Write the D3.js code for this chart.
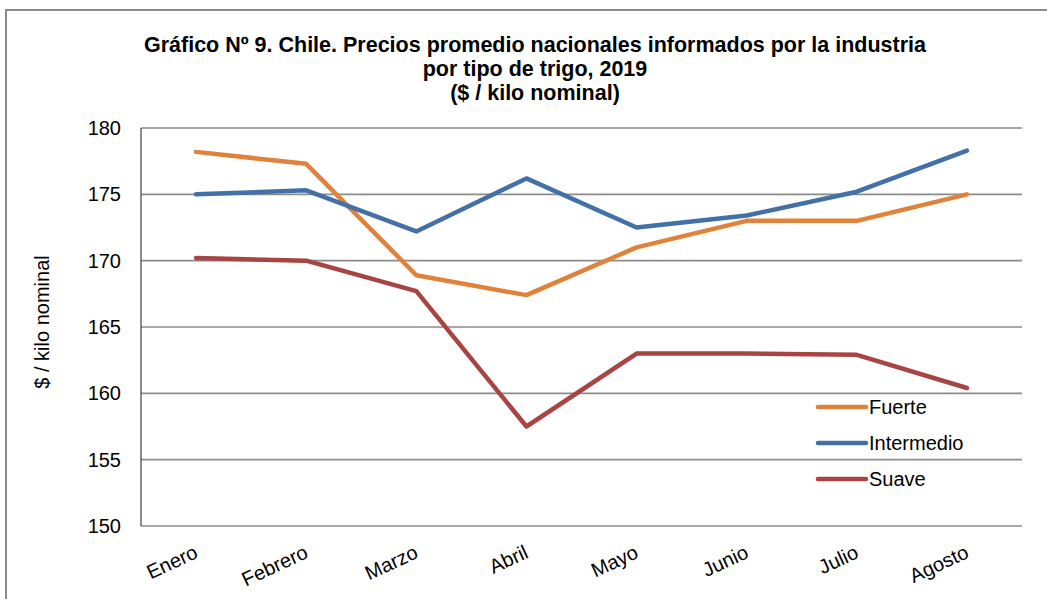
<!DOCTYPE html>
<html><head><meta charset="utf-8">
<script src="https://cdn.jsdelivr.net/npm/d3@7"></script>
<style>
html,body{margin:0;padding:0;background:#fff;}
svg{display:block;font-family:"Liberation Sans",Arial,sans-serif;}
</style></head>
<body><svg id="c" width="1047" height="599"></svg>
<script>
const months = ["Enero","Febrero","Marzo","Abril","Mayo","Junio","Julio","Agosto"];
const fuerte = [178.2, 177.3, 168.9, 167.4, 171.0, 173.0, 173.0, 175.0];
const intermedio = [175.0, 175.3, 172.2, 176.2, 172.5, 173.4, 175.2, 178.3];
const suave = [170.2, 170.0, 167.7, 157.5, 163.0, 163.0, 162.9, 160.4];
const yTicks = [150, 155, 160, 165, 170, 175, 180];
const seriesNames = ["Fuerte","Intermedio","Suave"];
const titleLines = ["Gráfico Nº 9. Chile. Precios promedio nacionales informados por la industria","por tipo de trigo, 2019","($ / kilo nominal)"];
const yTitle = "$ / kilo nominal";

const colors = {Fuerte:"#E0823A", Intermedio:"#4470A8", Suave:"#A84442"};
const series = [
  {name:"Fuerte", values:fuerte},
  {name:"Intermedio", values:intermedio},
  {name:"Suave", values:suave}
];

const svg = d3.select("#c");
const L = 141, R = 1022, T = 128, B = 526;

// outer frame
svg.append("path").attr("d","M6,599 L6,10 L1047,10").attr("fill","none").attr("stroke","#8a8a8a").attr("stroke-width",2);

// title
const tt = svg.append("text").attr("text-anchor","middle").attr("font-weight","bold").attr("font-size",21.5).attr("fill","#000");
titleLines.forEach((t,i)=>tt.append("tspan").attr("x",535).attr("y",52+i*24).text(t));

const x = d3.scaleBand().domain(months).range([L,R]).padding(0);
const y = d3.scaleLinear().domain([150,180]).range([B,T]);

// gridlines
svg.append("g").selectAll("line").data(yTicks).join("line")
  .attr("x1",L).attr("x2",R).attr("y1",d=>y(d)).attr("y2",d=>y(d))
  .attr("stroke","#8c8c8c").attr("stroke-width",1.6);

// y axis line
svg.append("line").attr("x1",L).attr("x2",L).attr("y1",T).attr("y2",B).attr("stroke","#404040").attr("stroke-width",1.2);

// y tick labels
svg.append("g").selectAll("text").data(yTicks).join("text")
  .attr("x",121).attr("y",d=>y(d)).attr("dy","0.35em").attr("text-anchor","end")
  .attr("font-size",20).attr("fill","#000").text(d=>d);

// y title
svg.append("text").attr("transform","translate(49,322) rotate(-90)").attr("text-anchor","middle")
  .attr("font-size",20).attr("fill","#000").text(yTitle);

// x labels
svg.append("g").selectAll("text").data(months).join("text")
  .attr("transform",d=>`translate(${x(d)+x.bandwidth()/2-3},544) rotate(-25)`)
  .attr("text-anchor","end").attr("dy","0.72em").attr("font-size",20).attr("fill","#000").text(d=>d);

// lines
const line = d3.line().x((d,i)=>x(months[i])+x.bandwidth()/2).y(d=>y(d));
svg.append("g").selectAll("path").data(series).join("path")
  .attr("d",d=>line(d.values)).attr("fill","none")
  .attr("stroke",d=>colors[d.name]).attr("stroke-width",4.5)
  .attr("stroke-linecap","round").attr("stroke-linejoin","round");

// legend
const lg = svg.append("g").selectAll("g").data(seriesNames).join("g")
  .attr("transform",(d,i)=>`translate(0,${407+i*36})`);
lg.append("line").attr("x1",818).attr("x2",866).attr("stroke",d=>colors[d]).attr("stroke-width",4.5).attr("stroke-linecap","round");
lg.append("text").attr("x",869).attr("dy","0.36em").attr("font-size",20).attr("fill","#000").text(d=>d);
</script></body></html>
